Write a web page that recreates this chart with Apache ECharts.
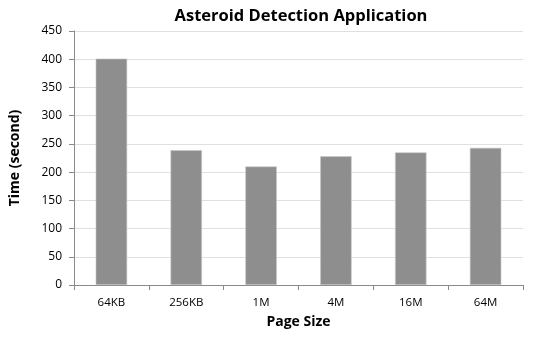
<!DOCTYPE html>
<html>
<head>
<meta charset="utf-8">
<script src="https://cdn.jsdelivr.net/npm/echarts@6/dist/echarts.min.js"></script>
<style>
  html, body { margin: 0; padding: 0; background: #fff; }
  #chart { width: 534px; height: 339px; }
</style>
</head>
<body>
<div id="chart"></div>
<script>
// Run time of the asteroid detection job for each page size
const pageSizes = ['64KB', '256KB', '1M', '4M', '16M', '64M'];
const timeSeconds = [401, 239, 210, 228, 235, 243];
const yTicks = { min: 0, max: 450, interval: 50 };

const font = '"Open Sans", "Liberation Sans", sans-serif';

const chart = echarts.init(document.getElementById('chart'), null, { renderer: 'canvas' });
chart.setOption({
  animation: false,
  backgroundColor: '#ffffff',
  title: {
    text: 'Asteroid Detection Application',
    left: 296,
    textAlign: 'center',
    top: 3,
    textStyle: { fontFamily: font, fontWeight: 'bold', fontSize: 16.5, color: '#000' }
  },
  grid: { left: 74, right: 11, top: 31, bottom: 54 },
  xAxis: {
    type: 'category',
    data: pageSizes,
    name: 'Page Size',
    nameLocation: 'middle',
    nameGap: 30,
    nameTextStyle: { fontFamily: font, fontWeight: 'bold', fontSize: 14, color: '#000' },
    axisLine: { lineStyle: { color: '#8a8a8a', width: 1 } },
    axisTick: { show: true, length: 5, alignWithLabel: false, lineStyle: { color: '#8a8a8a' } },
    axisLabel: { fontFamily: font, fontSize: 11.5, color: '#000', margin: 12 }
  },
  yAxis: {
    type: 'value',
    min: yTicks.min,
    max: yTicks.max,
    interval: yTicks.interval,
    name: 'Time (second)',
    nameLocation: 'middle',
    nameGap: 52,
    nameRotate: 90,
    nameTextStyle: { fontFamily: font, fontWeight: 'bold', fontSize: 14, color: '#000' },
    axisLine: { show: true, lineStyle: { color: '#8a8a8a', width: 1 } },
    axisTick: { show: true, length: 5, lineStyle: { color: '#8a8a8a' } },
    axisLabel: { fontFamily: font, fontSize: 12, color: '#000', margin: 12 },
    splitLine: { lineStyle: { color: '#e0e0e0', width: 1 } }
  },
  series: [{
    type: 'bar',
    data: timeSeconds,
    barWidth: '42%',
    itemStyle: { color: '#8e8e8e', borderColor: '#c8c8c8', borderWidth: 0.6 }
  }]
});
</script>
</body>
</html>
